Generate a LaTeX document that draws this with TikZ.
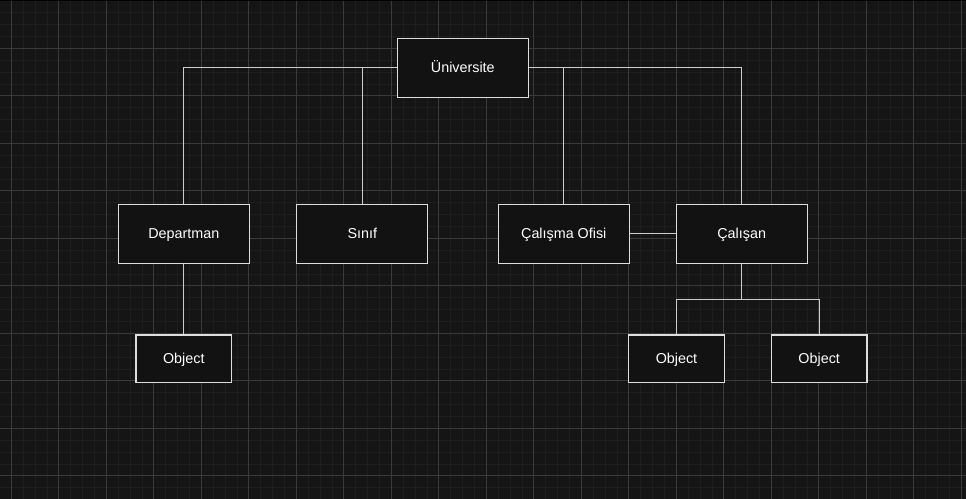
\documentclass[tikz,border=0pt]{standalone}
\usepackage{fontspec}
\setmainfont{Liberation Sans}
\definecolor{bgcol}{RGB}{21,21,21}
\definecolor{minorcol}{RGB}{30,30,30}
\definecolor{majorcol}{RGB}{58,58,58}
\definecolor{boxfill}{RGB}{18,18,18}
\definecolor{boxline}{RGB}{222,222,222}
\definecolor{wirecol}{RGB}{205,205,205}
\tikzset{
  gridminor/.style={draw=minorcol, line width=0.6pt},
  gridmajor/.style={draw=majorcol, line width=0.6pt},
  bigbox/.style={rectangle, draw=boxline, fill=boxfill, text=white, line width=0.8pt,
    inner sep=0pt, minimum width=3.275cm, minimum height=1.475cm,
    text height=0.716em, text depth=0pt, font=\fontsize{10.2}{12}\selectfont},
  smallbox/.style={bigbox, minimum width=2.39cm, minimum height=1.19cm},
  wire/.style={draw=wirecol, line width=0.8pt}
}
\begin{document}
\begin{tikzpicture}[x=0.025cm, y=-0.025cm]

      \useasboundingbox (0,0) rectangle (966,499);
      \fill[bgcol] (0,0) rectangle (966,499);

      % grid
      \foreach \i in {0,...,81}
        \draw[gridminor] ({-0.575+11.875*\i},0) -- ++(0,499);
      \foreach \i in {0,...,41}
        \draw[gridminor] (0,{0.8+11.875*\i}) -- ++(966,0);
      \foreach \i in {0,...,20}
        \draw[gridmajor] ({11.3+47.5*\i},0) -- ++(0,499);
      \foreach \i in {0,...,10}
        \draw[gridmajor] (0,{0.8+47.5*\i}) -- ++(966,0);
      \draw[black, line width=1pt] (0,0.5) -- (966,0.5);

      \begin{scope}[every node/.style={bigbox}]
        \node (uni)     at (462.8,67.8)  {Üniversite};
        \node (dep)     at (183.8,233.8) {Departman};
        \node (sinif)   at (362.3,233.8) {Sınıf};
        \node (ofis)    at (563.8,233.8) {Çalışma Ofisi};
        \node (calisan) at (741.7,233.8) {Çalışan};
      \end{scope}

      \begin{scope}[every node/.style={smallbox}]
        \node (obj1) at (183.8,358.8) {Object};
        \node (obj2) at (676.5,358.8) {Object};
        \node (obj3) at (819.2,358.8) {Object};
      \end{scope}

      \begin{scope}[every path/.style={wire}]
        \draw (uni.west) -| (dep.north);
        \draw (sinif.north) |- (uni.west);
        \draw (uni.east) -| (calisan.north);
        \draw (ofis.north) |- (uni.east);
        \draw (ofis) -- (calisan);
        \draw (dep) -- (obj1);
        \draw (calisan.south) -- ++(0,35.5) -| (obj2.north);
        \draw (calisan.south) -- ++(0,35.5) -| (obj3.north);
      \end{scope}

    \end{tikzpicture}
\end{document}
